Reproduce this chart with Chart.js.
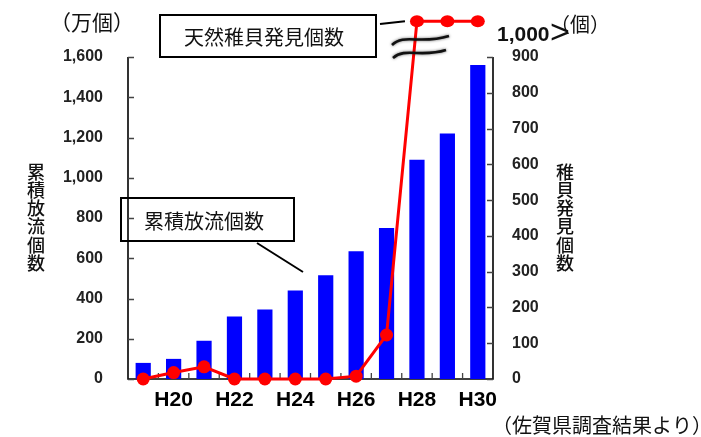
<!DOCTYPE html>
<html lang="ja">
<head>
<meta charset="utf-8">
<title>累積放流個数と天然稚貝発見個数</title>
<script src="https://cdn.jsdelivr.net/npm/chart.js@4.4.1/dist/chart.umd.min.js"></script>
<style>
  html, body { margin: 0; padding: 0; background: #fff; }
  #wrap { position: relative; width: 701px; height: 437px; }
</style>
</head>
<body>
<div id="wrap"><canvas id="c" width="701" height="437"></canvas></div>
<script>
// Fiscal years (Heisei era)
const categories = ['H19', 'H20', 'H21', 'H22', 'H23', 'H24', 'H25', 'H26', 'H27', 'H28', 'H29', 'H30'];
// Years that carry a tick label on the category axis
const labeledYears = ['H20', 'H22', 'H24', 'H26', 'H28', 'H30'];
// Cumulative release count (10,000 units), left axis
const releasedCumulative = [80, 100, 190, 310, 345, 440, 515, 635, 750, 1090, 1220, 1560];
// Wild juvenile count found, right axis (last three years: over 1,000)
const juvenilesFound = [0, 18, 34, 0, 0, 0, 0, 8, 123, 1000, 1000, 1000];
// Axis ranges and steps
const leftMax = 1600, leftStep = 200;
const rightMax = 900, rightStep = 100;

// Text drawn around the plot
const leftUnit = '（万個）';
const rightUnit = '（個）';
const overLabel = '1,000';
const overMark = '>';
const leftTitle = '累積放流個数';
const rightTitle = '稚貝発見個数';
const calloutLine = '天然稚貝発見個数';
const calloutBar = '累積放流個数';
const sourceNote = '（佐賀県調査結果より）';

const CJK = '"Noto Sans CJK JP", "Noto Sans", sans-serif';
const LAT = '"Liberation Sans", Arial, sans-serif';
const RED = '#ff0000';
const POINT_R = 6.5;

// Axis lines and inward tick marks
const axesPlugin = {
  id: 'axesPlugin',
  beforeDatasetsDraw(chart) {
    const { ctx, chartArea: a, scales } = chart;
    const x = scales.x, y = scales.y, y1 = scales.y1;
    ctx.save();
    ctx.strokeStyle = '#000';
    ctx.lineWidth = 1.6;
    ctx.beginPath();
    ctx.moveTo(a.left, a.top); ctx.lineTo(a.left, a.bottom); ctx.lineTo(a.right, a.bottom); ctx.lineTo(a.right, a.top);
    ctx.stroke();

    ctx.strokeStyle = '#444';
    ctx.lineWidth = 1.3;
    ctx.beginPath();
    y.ticks.forEach(t => {
      const py = Math.round(y.getPixelForValue(t.value)) + 0.5;
      ctx.moveTo(a.left, py); ctx.lineTo(a.left + 6, py);
    });
    y1.ticks.forEach(t => {
      const py = Math.round(y1.getPixelForValue(t.value)) + 0.5;
      ctx.moveTo(a.right, py); ctx.lineTo(a.right - 6, py);
    });
    for (let i = 1; i < categories.length; i++) {
      const bx = (x.getPixelForValue(i - 1) + x.getPixelForValue(i)) / 2;
      ctx.moveTo(bx, a.bottom); ctx.lineTo(bx, a.bottom - 6);
    }
    ctx.stroke();
    ctx.restore();
  },
  // markers of the off-scale years sit above the plot area, where the library skips them
  afterDatasetsDraw(chart) {
    const { ctx, chartArea: a } = chart;
    const meta = chart.getDatasetMeta(0);
    ctx.save();
    ctx.fillStyle = RED;
    meta.data.forEach(pt => {
      if (pt.y < a.top - 1) {
        ctx.beginPath();
        ctx.ellipse(pt.x, pt.y, POINT_R + 0.5, POINT_R - 0.5, 0, 0, Math.PI * 2);
        ctx.fill();
      }
    });
    ctx.restore();
  }
};

// Units, titles, callouts, axis break mark and source note
const notesPlugin = {
  id: 'notesPlugin',
  afterDraw(chart) {
    const { ctx, scales } = chart;
    const x = scales.x, y1 = scales.y1;
    ctx.save();
    ctx.fillStyle = '#111';
    ctx.textBaseline = 'middle';

    // unit labels
    ctx.font = `21px ${CJK}`;
    ctx.textAlign = 'left';
    ctx.fillText(leftUnit, 50, 22);
    ctx.font = `20px ${CJK}`;
    ctx.fillText(rightUnit, 550, 24);

    ctx.font = `bold 21px ${LAT}`;
    ctx.fillText(overLabel, 497, 35);
    ctx.font = `34px ${LAT}`;
    ctx.fillText(overMark, 550, 34);

    // vertical axis titles
    ctx.font = `500 18px ${CJK}`;
    ctx.textAlign = 'center';
    [...leftTitle].forEach((ch, i) => ctx.fillText(ch, 36, 172 + i * 18.2));
    [...rightTitle].forEach((ch, i) => ctx.fillText(ch, 565, 172 + i * 18.2));

    // callout boxes
    ctx.strokeStyle = '#000';
    ctx.lineWidth = 2;
    ctx.strokeRect(160, 15, 216, 42);
    ctx.strokeRect(121, 198, 173, 43);
    ctx.font = `20px ${CJK}`;
    ctx.textAlign = 'left';
    ctx.fillText(calloutLine, 184, 37);
    ctx.fillText(calloutBar, 144, 221);

    // leader lines to the marks
    const topPt = { px: x.getPixelForValue(9), py: y1.getPixelForValue(juvenilesFound[9]) };
    ctx.beginPath();
    ctx.moveTo(380, 24); ctx.lineTo(topPt.px - 12, topPt.py);
    ctx.moveTo(257, 243); ctx.lineTo(303, 272);
    ctx.stroke();

    // axis break mark across the line
    ctx.strokeStyle = '#111';
    ctx.lineWidth = 2.6;
    ctx.shadowColor = 'rgba(0,0,0,0.6)';
    ctx.shadowBlur = 3;
    ctx.beginPath();
    ctx.moveTo(392, 45); ctx.bezierCurveTo(404, 33, 420, 45, 449, 36);
    ctx.moveTo(393, 58); ctx.bezierCurveTo(405, 47, 421, 58, 446, 50);
    ctx.stroke();
    ctx.shadowBlur = 0;

    // source note
    ctx.font = `20px ${CJK}`;
    ctx.textAlign = 'left';
    ctx.fillText(sourceNote, 492, 425);
    ctx.restore();
  }
};

new Chart(document.getElementById('c'), {
  data: {
    labels: categories,
    datasets: [
      {
        type: 'line',
        label: calloutLine,
        data: juvenilesFound,
        yAxisID: 'y1',
        borderColor: RED,
        backgroundColor: RED,
        borderWidth: 3,
        pointRadius: POINT_R,
        pointBorderWidth: 0,
        pointBackgroundColor: RED,
        tension: 0,
        clip: false,
        order: 0
      },
      {
        type: 'bar',
        label: calloutBar,
        data: releasedCumulative,
        yAxisID: 'y',
        backgroundColor: '#0000ff',
        barPercentage: 0.5,
        categoryPercentage: 1.0,
        order: 1
      }
    ]
  },
  options: {
    responsive: false,
    maintainAspectRatio: false,
    devicePixelRatio: 1,
    animation: false,
    layout: { padding: { top: 57, left: 0, right: 0, bottom: 0 } },
    plugins: { legend: { display: false }, tooltip: { enabled: false } },
    scales: {
      x: {
        offset: true,
        grid: { display: false, drawTicks: false },
        border: { display: false },
        afterFit(s) { s.height = 58; },
        ticks: {
          autoSkip: false,
          maxRotation: 0,
          padding: 9,
          color: '#000',
          font: { family: LAT, size: 21, weight: 'bold' },
          callback(v) {
            const lab = categories[v];
            return labeledYears.includes(lab) ? lab : '';
          }
        }
      },
      y: {
        position: 'left',
        min: 0, max: leftMax,
        grid: { display: false, drawTicks: false },
        border: { display: false },
        afterFit(s) { s.width = 128; },
        ticks: {
          stepSize: leftStep,
          padding: 25,
          color: '#222',
          font: { family: LAT, size: 16, weight: 'bold' },
          callback: v => v.toLocaleString('en-US')
        }
      },
      y1: {
        position: 'right',
        min: 0, max: rightMax,
        grid: { display: false, drawTicks: false },
        border: { display: false },
        afterFit(s) { s.width = 208; },
        ticks: {
          stepSize: rightStep,
          padding: 19,
          color: '#222',
          font: { family: LAT, size: 16, weight: 'bold' },
          callback: v => v.toLocaleString('en-US')
        }
      }
    }
  },
  plugins: [axesPlugin, notesPlugin]
});
</script>
</body>
</html>
